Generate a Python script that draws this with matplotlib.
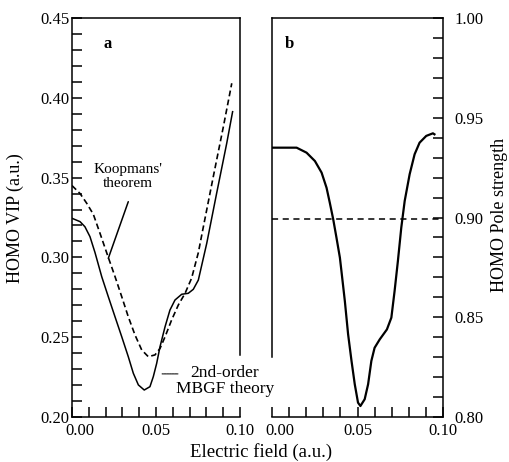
import matplotlib
matplotlib.use("Agg")
import matplotlib.pyplot as plt
import matplotlib.ticker as ticker
import matplotlib.transforms as mtransforms

plt.rcParams['font.family'] = ['Liberation Serif', 'DejaVu Serif']

# panel a: HOMO VIP vs electric field
field_koop = [0.000, 0.0048, 0.0087, 0.0127, 0.0167, 0.0216, 0.0256, 0.0296,
              0.0335, 0.0375, 0.0415, 0.0454, 0.0494, 0.0524, 0.0554, 0.0593,
              0.0633, 0.0673, 0.0712, 0.0752, 0.0782, 0.0841, 0.0901, 0.0951]
vip_koop = [0.345, 0.340, 0.334, 0.327, 0.315, 0.300, 0.288, 0.2754,
            0.2628, 0.2514, 0.2420, 0.2378, 0.2389, 0.2430, 0.2503, 0.2608,
            0.2702, 0.2775, 0.2870, 0.3030, 0.3192, 0.3506, 0.3819, 0.4091]

field_mbgf = [0.000, 0.0048, 0.0077, 0.0107, 0.0137, 0.0177, 0.0216, 0.0256,
              0.0296, 0.0335, 0.0365, 0.0395, 0.0430, 0.0464, 0.0484, 0.0504,
              0.0524, 0.0554, 0.0583, 0.0613, 0.0653, 0.0692, 0.0722, 0.0752,
              0.0802, 0.0861, 0.0921, 0.0956]
vip_mbgf = [0.3245, 0.3224, 0.3192, 0.3130, 0.3030, 0.2879, 0.2754, 0.2628,
            0.2503, 0.2378, 0.2274, 0.2201, 0.2169, 0.2190, 0.2253, 0.2336,
            0.2441, 0.2566, 0.2670, 0.2733, 0.2769, 0.2775, 0.2800, 0.2858,
            0.3088, 0.3402, 0.3715, 0.3913]

# panel b: pole strength
field_pole = [0.000, 0.0144, 0.0202, 0.0251, 0.0290, 0.0319, 0.0338, 0.0358,
              0.0377, 0.0397, 0.0406, 0.0426, 0.0445, 0.0465, 0.0484, 0.0503,
              0.0517, 0.0542, 0.0562, 0.0581, 0.0600, 0.0630, 0.0672, 0.0698,
              0.0717, 0.0736, 0.0756, 0.0776, 0.0805, 0.0834, 0.0863, 0.0902,
              0.0941, 0.0950]
pole = [0.935, 0.935, 0.9325, 0.9283, 0.9225, 0.9149, 0.9074, 0.8991,
        0.8899, 0.8799, 0.8732, 0.8581, 0.8415, 0.8281, 0.8164, 0.8072,
        0.8055, 0.8089, 0.8164, 0.8281, 0.8347, 0.8389, 0.8439, 0.8498,
        0.8632, 0.8780, 0.8949, 0.9083, 0.9217, 0.9317, 0.9375, 0.9409,
        0.9422, 0.9417]
field_ref = [0.0, 0.1]
pole_ref = [0.899, 0.899]

W, H = 509, 462
fig = plt.figure(figsize=(W / 100, H / 100), dpi=100)
axa = fig.add_axes([72 / W, 1 - 417 / H, 168 / W, 399 / H])
axb = fig.add_axes([272 / W, 1 - 417 / H, 171 / W, 399 / H])

axa.plot(field_koop, vip_koop, color='black', lw=1.2, dashes=(3.5, 2))
axa.plot(field_mbgf, vip_mbgf, color='black', lw=1.1)
axb.plot(field_pole, pole, color='black', lw=1.6)
axb.plot(field_ref, pole_ref, color='black', lw=1.1, dashes=(4, 3))

axa.set_xlim(0, 0.1)
axa.set_ylim(0.2, 0.45)
axb.set_xlim(0, 0.1)
axb.set_ylim(0.8, 1.0)

fmt = ticker.FormatStrFormatter('%.2f')
for ax in (axa, axb):
    ax.xaxis.set_major_locator(ticker.FixedLocator([0.0, 0.05, 0.1]))
    ax.xaxis.set_minor_locator(ticker.MultipleLocator(0.01))
    ax.yaxis.set_major_locator(ticker.MultipleLocator(0.05))
    ax.yaxis.set_minor_locator(ticker.MultipleLocator(0.01))
    ax.xaxis.set_major_formatter(fmt)
    ax.yaxis.set_major_formatter(fmt)
    ax.tick_params(which='both', direction='in', length=7, width=1.1,
                   labelsize=12, top=False)
    ax.tick_params(axis='x', pad=4)
    for s in ax.spines.values():
        s.set_linewidth(1.1)

axa.tick_params(right=False, pad=2, axis='y')
axb.yaxis.tick_right()
axb.tick_params(which='both', left=False, right=True)
axb.tick_params(axis='y', pad=8)

# the label block cuts the inner spines
axa.spines['right'].set_bounds(0.239, 0.45)
axb.spines['left'].set_bounds(0.83, 1.0)

# nudge the 0.00 tick labels like the original
for ax in (axa, axb):
    lab = ax.xaxis.get_majorticklabels()[0]
    lab.set_transform(lab.get_transform() +
                      mtransforms.ScaledTranslation(8 / 100, 0, fig.dpi_scale_trans))

axa.text(0.21, 0.935, 'a', transform=axa.transAxes, fontsize=12,
         fontweight='bold', ha='center', va='center')
axb.text(0.10, 0.935, 'b', transform=axb.transAxes, fontsize=12,
         fontweight='bold', ha='center', va='center')

axa.text(0.0333, 0.351, "Koopmans'\ntheorem", fontsize=11, ha='center',
         va='center', linespacing=1.1)
axa.annotate('', xy=(0.0216, 0.2994), xytext=(0.0335, 0.3349),
             arrowprops=dict(arrowstyle='-', lw=1.1, color='black',
                             shrinkA=0, shrinkB=0))
fig.text(225 / W, 1 - 381 / H, '2nd-order\nMBGF theory', fontsize=12.5,
         ha='center', va='center', linespacing=1.0)
axa.annotate('', xy=(0.0536, 0.227), xytext=(0.0631, 0.227),
             arrowprops=dict(arrowstyle='-', lw=0.7, color='black',
                             linestyle=(0, (1, 0.6)), shrinkA=0, shrinkB=0))

fig.text(15 / W, 1 - 218 / H, 'HOMO VIP (a.u.)', fontsize=13, rotation=90,
         ha='center', va='center')
fig.text(499 / W, 1 - 215 / H, 'HOMO Pole strength', fontsize=13, rotation=90,
         ha='center', va='center')
fig.text(261 / W, 1 - 452 / H, 'Electric field (a.u.)', fontsize=13.5,
         ha='center', va='center')

fig.savefig('out.png', dpi=100)
